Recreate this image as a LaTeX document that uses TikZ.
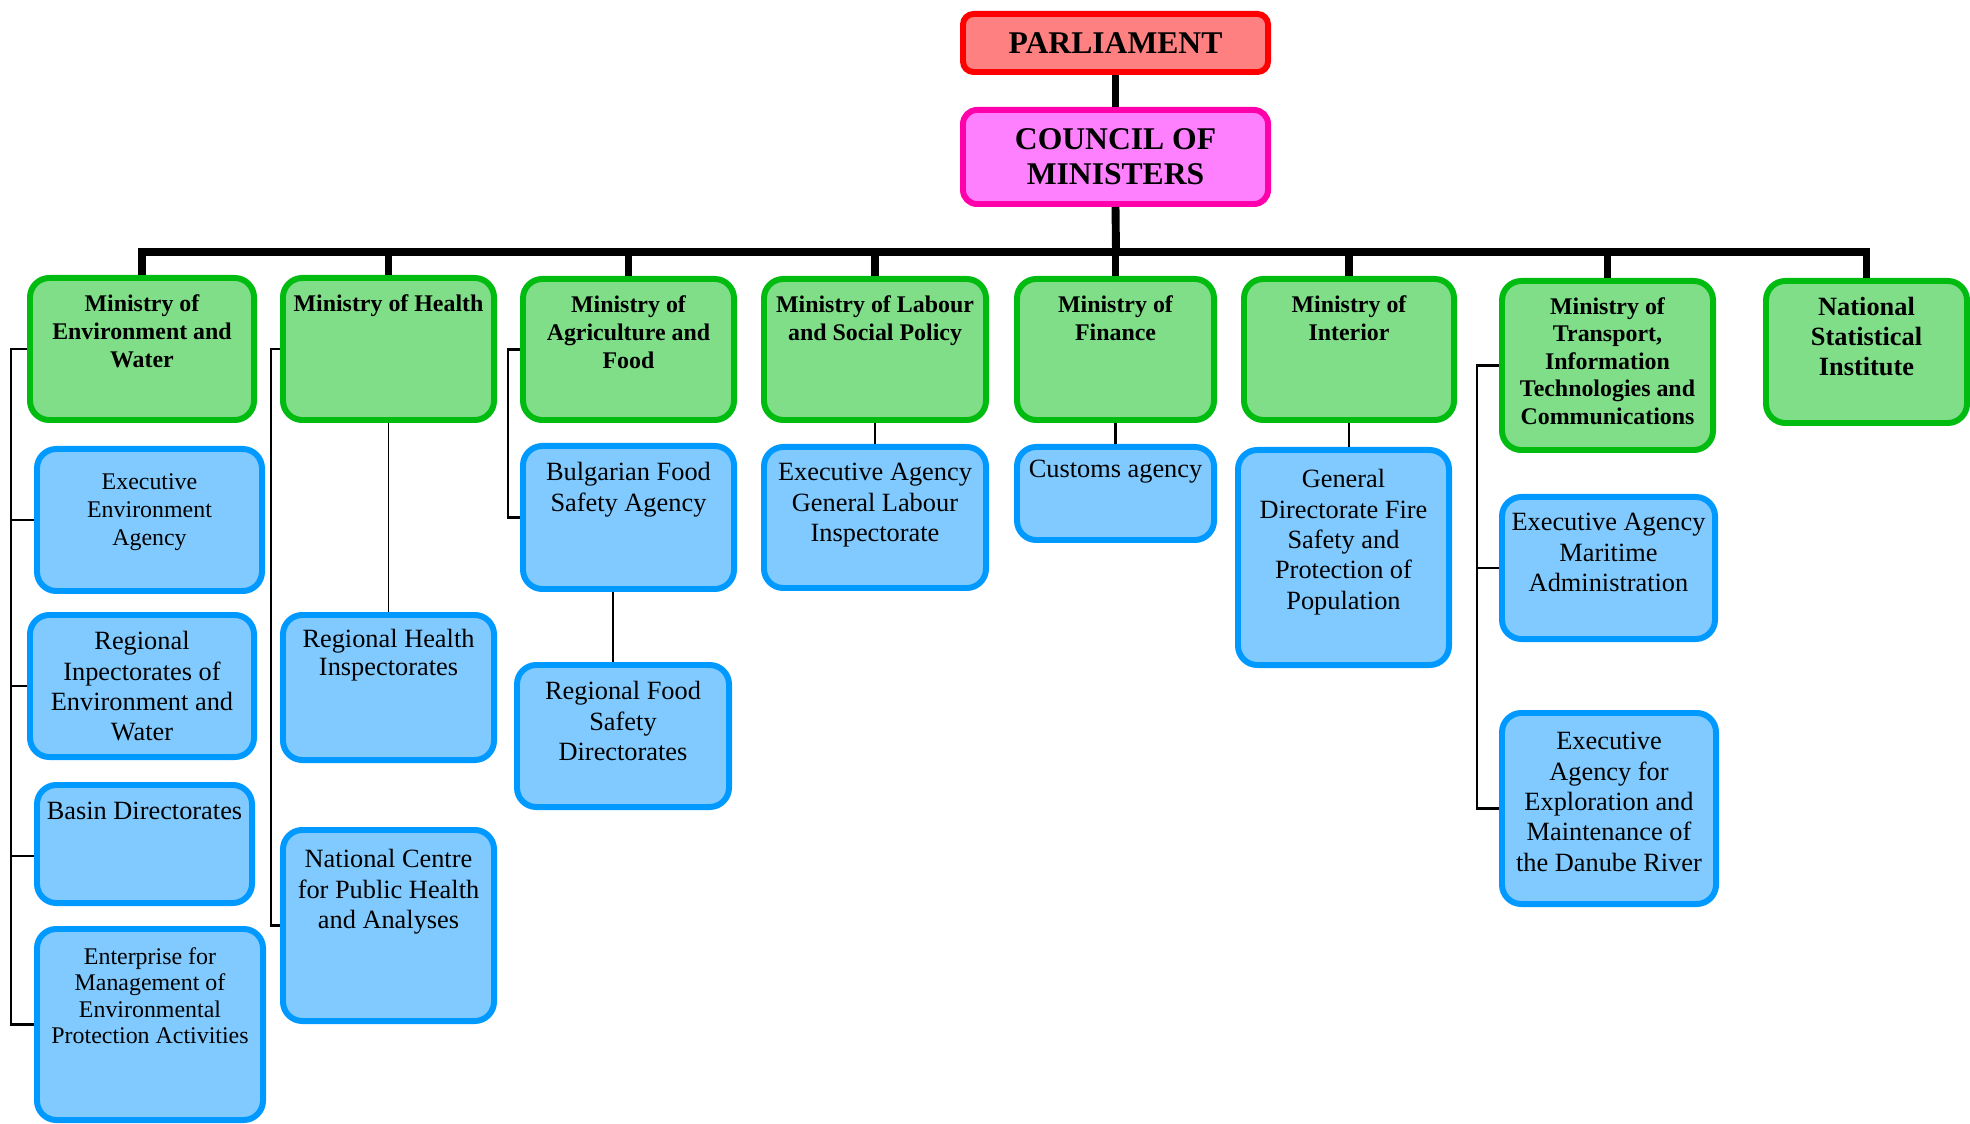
\documentclass[tikz,border=0pt]{standalone}
\usepackage{fontspec}
\setmainfont{Liberation Serif}
\usepackage{xcolor}

\definecolor{minfill}{HTML}{80DE88}
\definecolor{minedge}{HTML}{00BB10}
\definecolor{agfill}{HTML}{80CAFF}
\definecolor{agedge}{HTML}{0099FF}
\definecolor{parlfill}{HTML}{FF8080}
\definecolor{parledge}{HTML}{FF0000}
\definecolor{coufill}{HTML}{FF80FF}
\definecolor{couedge}{HTML}{FF00AA}

\newcommand{\minfont}{\fontsize{13.6}{15.9}\selectfont\bfseries}
\newcommand{\agfont}{\fontsize{15}{17.3}\selectfont}
\newcommand{\topfont}{\fontsize{18}{19.8}\selectfont\bfseries}

\begin{document}
\begin{tikzpicture}[
                x=0.02cm, y=-0.02cm,
                box/.style={rectangle, rounded corners=11pt, line width=3.4pt, inner sep=0pt},
                ministry/.style={box, draw=minedge, fill=minfill},
                agency/.style={box, draw=agedge, fill=agfill},
                sz/.style 2 args={minimum width=#1*0.02cm-3.4pt, minimum height=#2*0.02cm-3.4pt},
                lbl/.style={anchor=north, inner sep=0pt, align=center, yshift=-19*0.02cm},
                mtext/.style={label={[lbl, font=\minfont]north:#1}},
                atext/.style={label={[lbl, font=\agfont]north:#1}},
                trunk/.style={line width=4.5pt},
                rail/.style={line width=1.3pt},
                link/.style={line width=1.5pt},
                thinlink/.style={line width=0.6pt}
            ]
            \useasboundingbox (0,0) rectangle (1970,1124);

            % top of the tree
            \node[box, rounded corners=6pt, draw=parledge, fill=parlfill, sz={311}{64}, font=\topfont] (parl) at (1115.5,43) {PARLIAMENT};
            \node[box, rounded corners=8pt, draw=couedge, fill=coufill, sz={311}{100}, font=\topfont, align=center] (council) at (1115.5,157) {COUNCIL OF\\MINISTERS};

            % ministries
            \node[ministry, sz={230}{148}, mtext={Ministry of\\Environment and\\Water}] (env) at (142,349) {};
            \node[ministry, sz={217}{148}, mtext={Ministry of Health}] (health) at (388.5,349) {};
            \node[ministry, sz={217}{147}, mtext={Ministry of\\Agriculture and\\Food}] (agri) at (628.5,349.5) {};
            \node[ministry, sz={228}{147}, mtext={Ministry of Labour\\and Social Policy}] (labour) at (875,349.5) {};
            \node[ministry, sz={203}{147}, mtext={Ministry of\\Finance}] (finance) at (1115.5,349.5) {};
            \node[ministry, sz={216}{147}, mtext={Ministry of\\Interior}] (interior) at (1349,349.5) {};
            \node[ministry, sz={217}{175}, label={[lbl, font=\fontsize{13.6}{15.7}\selectfont\bfseries]north:Ministry of\\Transport,\\Information\\Technologies and\\Communications}] (transport) at (1607.5,365.5) {};
            \node[ministry, sz={207}{148}, label={[lbl, font=\fontsize{15}{17}\selectfont\bfseries]north:National\\Statistical\\Institute}] (nsi) at (1866.5,352) {};

            % agencies
            \node[agency, sz={231}{148}, label={[lbl, yshift=-8*0.02cm, font=\fontsize{13.6}{15.9}\selectfont]north:Executive\\Environment\\Agency}] (exenv) at (149.5,520) {};
            \node[agency, sz={230}{148}, atext={Regional\\Inpectorates of\\Environment and\\Water}] (rienv) at (142,686) {};
            \node[agency, sz={221}{124}, label={[lbl, yshift=-1*0.02cm, font=\agfont]north:Basin Directorates}] (basin) at (144.5,844) {};
            \node[agency, sz={232}{197}, label={[lbl, yshift=-2*0.02cm, font=\fontsize{13.6}{15.1}\selectfont]north:Enterprise for\\Management of\\Environmental\\Protection Activities}] (enterp) at (150,1024.5) {};
            \node[agency, sz={217}{151}, label={[lbl, yshift=2*0.02cm, font=\fontsize{15}{15.9}\selectfont]north:Regional Health\\Inspectorates}] (rhealth) at (388.5,687.5) {};
            \node[agency, sz={217}{197}, label={[lbl, yshift=-3*0.02cm, font=\agfont]north:National Centre\\for Public Health\\and Analyses}] (natcen) at (388.5,925.5) {};
            \node[agency, sz={217}{149}, atext={Bulgarian Food\\Safety Agency}] (bfood) at (628.5,517.5) {};
            \node[agency, sz={218}{148}, atext={Regional Food\\Safety\\Directorates}] (rfood) at (623,736) {};
            \node[agency, sz={228}{147}, atext={Executive Agency\\General Labour\\Inspectorate}] (exlab) at (875,517.5) {};
            \node[agency, sz={203}{99}, label={[lbl, yshift=3*0.02cm, font=\agfont]north:Customs agency}] (customs) at (1115.5,493.5) {};
            \node[agency, sz={217}{221}, label={[lbl, yshift=-3*0.02cm, font=\agfont]north:General\\Directorate Fire\\Safety and\\Protection of\\Population}] (gendir) at (1343.5,557.5) {};
            \node[agency, sz={219}{148}, atext={Executive Agency\\Maritime\\Administration}] (maritime) at (1608.5,568) {};
            \node[agency, sz={220}{197}, label={[lbl, yshift=-3*0.02cm, font=\agfont]north:Executive\\Agency for\\Exploration and\\Maintenance of\\the Danube River}] (danube) at (1609,808.5) {};

            % main trunk
            \coordinate (bus) at (1116,252);
            \draw[trunk] (parl) -- (council);
            \draw[trunk] (council.south) -- (bus);
            \foreach \m in {env, health, agri, labour, finance, interior, transport, nsi}
                \draw[trunk] (bus) -| (\m.north);

            % side rails
            \draw[rail, line width=1.7pt] (env.west) -- ++(-16,0) |- (enterp.west);
            \foreach \sub in {exenv, rienv, enterp}
                \draw[rail, line width=1.7pt] (env.west) ++(-16,0) |- (\sub.west);
            \draw[rail, line width=1.7pt] (env.west) ++(-16,0) |- ([yshift=-0.24cm]basin.west);
            \draw[rail] (health.west) -- ++(-9,0) |- (natcen.west);
            \draw[rail] (agri.west) -- ++(-12,0) |- (bfood.west);
            \draw[rail] (transport.west) -- ++(-22,0) |- (danube.west);
            \draw[rail] (transport.west) ++(-22,0) |- (maritime.west);

            % direct links
            \draw[thinlink] (health.south) -- (rhealth.north);
            \draw[thinlink] ([xshift=-0.2cm]rfood.north) -- ([xshift=-0.2cm]rfood.north |- bfood.south);
            \draw[link] (labour.south) -- (exlab.north);
            \draw[link] (finance.south) -- (customs.north);
            \draw[link] (interior.south) -- (interior.south |- gendir.north);
        \end{tikzpicture}
\end{document}
